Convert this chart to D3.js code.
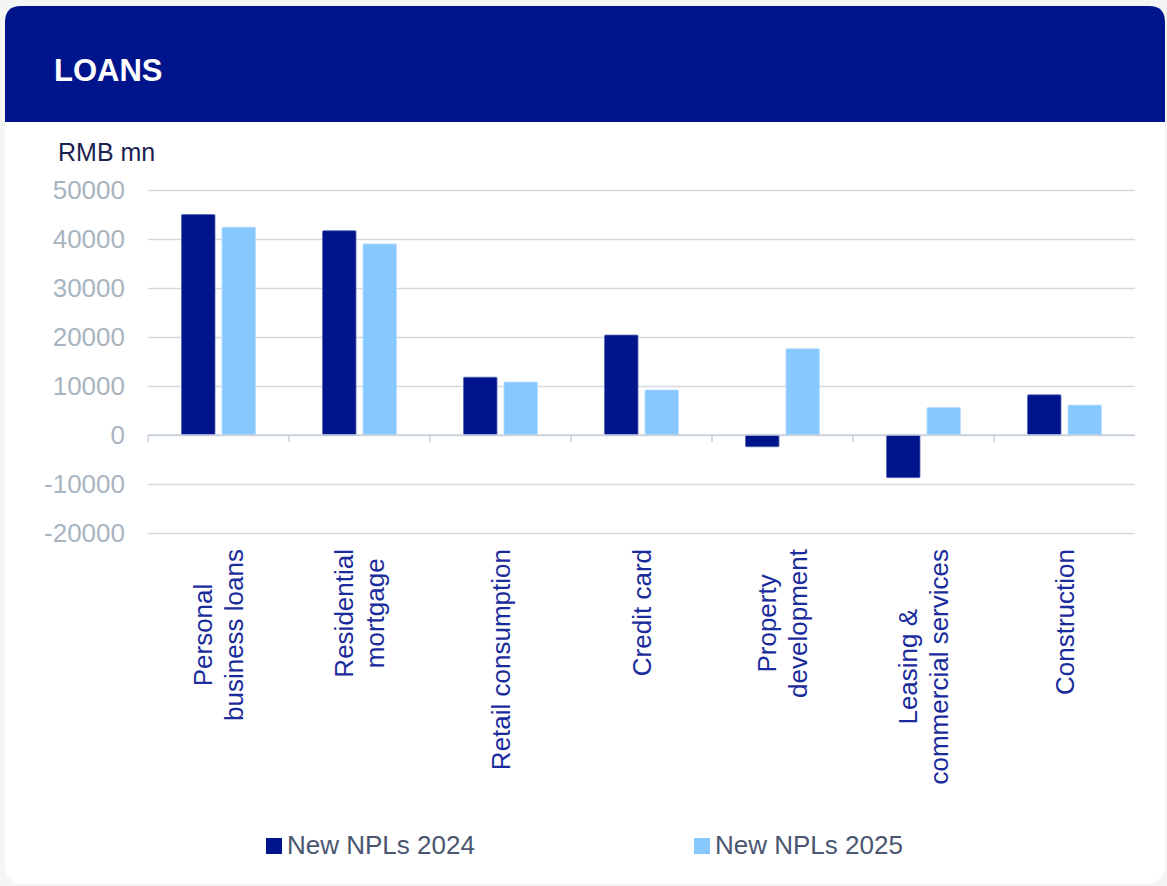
<!DOCTYPE html>
<html>
<head>
<meta charset="utf-8">
<script src="https://cdn.jsdelivr.net/npm/d3@7"></script>
<style>
  html, body { margin: 0; padding: 0; background: #f4f6f6; }
  svg { display: block; font-family: "Liberation Sans", Arial, sans-serif; }
</style>
</head>
<body>
<svg id="chart" width="1167" height="886"></svg>
<script>
// Loan categories (line breaks mark wrapped axis labels)
const categories = [
  ["Personal", "business loans"],
  ["Residential", "mortgage"],
  ["Retail consumption"],
  ["Credit card"],
  ["Property", "development"],
  ["Leasing &", "commercial services"],
  ["Construction"]
];
const seriesNames = ["New NPLs 2024", "New NPLs 2025"];
const npl2024 = [45000, 41700, 11800, 20400, -2400, -8700, 8200];
const npl2025 = [42400, 39000, 10800, 9200, 17600, 5600, 6100];
const yTicks = [-20000, -10000, 0, 10000, 20000, 30000, 40000, 50000];

const colors = { "New NPLs 2024": "#00158c", "New NPLs 2025": "#87c8ff" };
const svg = d3.select("#chart");

// Card with rounded corners and a navy header band
svg.append("rect").attr("x", 5).attr("y", 6).attr("width", 1160).attr("height", 878)
  .attr("rx", 18).attr("fill", "#ffffff");
const hx = 5, hy = 6, hw = 1160, hh = 116, r = 16;
svg.append("path")
  .attr("d", `M${hx},${hy + hh} V${hy + r} Q${hx},${hy} ${hx + r},${hy} H${hx + hw - r} Q${hx + hw},${hy} ${hx + hw},${hy + r} V${hy + hh} Z`)
  .attr("fill", "#00158c");
svg.append("text").attr("x", 54).attr("y", 81).attr("fill", "#ffffff")
  .attr("font-size", 31).attr("font-weight", "bold").text("LOANS");

svg.append("text").attr("x", 58).attr("y", 161).attr("fill", "#1b2150")
  .attr("font-size", 25).text("RMB mn");

// Scales
const plotLeft = 148, plotRight = 1135;
const x0 = d3.scaleBand().domain(d3.range(categories.length)).range([plotLeft, plotRight]).padding(0);
const x1 = d3.scaleBand().domain(seriesNames).range([0, x0.bandwidth()])
  .paddingInner(0.1728).paddingOuter(0.827);
const y = d3.scaleLinear().domain([-20000, 50000]).range([533, 190]);

// Gridlines
const grid = svg.append("g").attr("transform", `translate(${plotLeft},0)`)
  .call(d3.axisLeft(y).tickValues(yTicks).tickSize(-(plotRight - plotLeft)).tickFormat(""));
grid.select(".domain").remove();
grid.selectAll("line").attr("stroke", "#d3d9e2").attr("stroke-width", 1.5);

// Y tick labels (plain hyphen for negatives)
const yAxis = svg.append("g").attr("transform", `translate(125,0)`)
  .call(d3.axisLeft(y).tickValues(yTicks).tickSize(0).tickPadding(0).tickFormat(d => String(d)));
yAxis.select(".domain").remove();
yAxis.selectAll("text").attr("fill", "#a8b4c0").attr("font-size", 26)
  .attr("font-family", "\"Liberation Sans\", Arial, sans-serif");

// Bars
const rows = categories.map((c, i) => ({ i, values: [npl2024[i], npl2025[i]] }));
const groups = svg.append("g").selectAll("g").data(rows).join("g")
  .attr("transform", d => `translate(${x0(d.i)},0)`);
groups.selectAll("rect")
  .data(d => d.values.map((v, k) => ({ name: seriesNames[k], value: v })))
  .join("rect")
  .attr("x", d => x1(d.name))
  .attr("width", x1.bandwidth())
  .attr("y", d => y(Math.max(0, d.value)))
  .attr("height", d => Math.abs(y(d.value) - y(0)))
  .attr("fill", d => colors[d.name])
  .attr("stroke", d => d.name === seriesNames[0] ? "#5a68b4" : "#b8ddff")
  .attr("stroke-width", 0.8)
  .attr("rx", 1);

// Zero axis line with category separator ticks
svg.append("line").attr("x1", plotLeft).attr("x2", plotRight).attr("y1", y(0)).attr("y2", y(0))
  .attr("stroke", "#c9d0db").attr("stroke-width", 1.5);
svg.append("g").selectAll("line").data(d3.range(categories.length)).join("line")
  .attr("x1", d => x0(d)).attr("x2", d => x0(d))
  .attr("y1", y(0)).attr("y2", y(0) + 7)
  .attr("stroke", "#c9d0db").attr("stroke-width", 1.5);

// Rotated category labels, lines centred on each other and top-aligned
const labelTop = 549, lineGap = 31, capOffset = 9.3, labelSize = 26;
categories.forEach((lines, i) => {
  const cx = x0(i) + x0.bandwidth() / 2;
  const g = svg.append("g");
  const t = g.append("text").attr("text-anchor", "middle").attr("fill", "#1a2b9b")
    .attr("font-size", labelSize).attr("transform", "rotate(-90)");
  const n = lines.length;
  const spans = lines.map((ln, k) => t.append("tspan").attr("x", 0)
    .attr("y", (k - (n - 1) / 2) * lineGap + capOffset).text(ln));
  const maxLen = d3.max(spans, s => s.node().getComputedTextLength());
  g.attr("transform", `translate(${cx},${labelTop + maxLen / 2})`);
});

// Legend
const legendX = [266, 694];
seriesNames.forEach((name, k) => {
  const g = svg.append("g").attr("transform", `translate(${legendX[k]},838)`);
  g.append("rect").attr("width", 16).attr("height", 16).attr("fill", colors[name]);
  g.append("text").attr("x", 21).attr("y", 16).attr("fill", "#4a5670")
    .attr("font-size", 26).text(name);
});
</script>
</body>
</html>
